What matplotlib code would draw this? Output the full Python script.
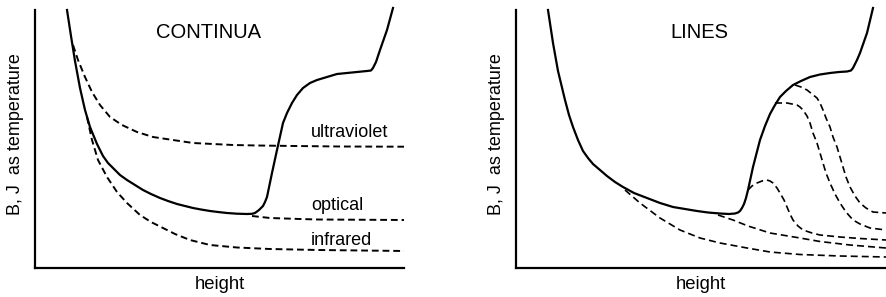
"""
Schematic of source function B and mean intensity J (as temperature) versus height,
for continua (left) and lines (right).
"""

# import the required libraries
import matplotlib
matplotlib.use('Agg')
import matplotlib.pyplot as plt

plt.rcParams['font.family'] = ['Liberation Sans', 'DejaVu Sans']

# ---- data (x: height, y: temperature, arbitrary units) ----
# left panel: CONTINUA
cont_B_x = [32, 36, 40, 45, 50, 55, 62, 68, 73, 78, 85, 92, 100, 108, 116, 125, 133, 142,
            150, 158, 166, 175, 183, 192, 202, 212, 217, 220, 224, 228, 230, 232, 237, 242,
            248, 252, 257, 262, 268, 275, 282, 292, 302, 312, 322, 332, 336, 338, 341, 345,
            352, 358]
cont_B_y = [258, 232, 207, 180, 158, 141, 124, 112, 105, 100, 93, 88, 83, 78, 74, 70, 67, 64,
            62, 60, 58.5, 57, 56, 55, 54.3, 54, 54.2, 55, 58, 62, 66, 71, 95, 118,
            145, 155, 165, 173, 180, 185, 188, 191, 194, 195, 196, 197, 197.5, 200, 206, 218,
            238, 260]

uv_x = [38, 43, 50, 57, 65, 75, 87, 102, 118, 138, 158, 178, 198, 222, 260, 305, 370]
uv_y = [223, 208, 191, 176, 163, 151, 143, 136, 131, 128, 125, 124, 123, 122.5, 122, 121.5,
        121.3]

optical_x = [217, 235, 265, 283, 370]
optical_y = [52, 50, 49, 48.5, 48]

ir_x = [52, 57, 63, 72, 82, 92, 105, 116, 128, 140, 155, 175, 202, 235, 283, 370]
ir_y = [151, 128, 108, 91, 76, 65, 53, 46, 40, 34, 28, 23, 20.5, 19, 18, 17]

cont_names = ['ultraviolet', 'optical', 'infrared']
cont_label_y = [131, 58, 23]

# right panel: LINES
line_B_x = [32, 37, 42, 49, 53, 57, 62, 67, 72, 77, 84, 91, 99, 107, 118, 131, 144, 157,
            169, 181, 192, 204, 213, 219, 222, 224, 226, 228, 230, 232, 237, 244, 249, 254,
            259, 264, 270, 277, 285, 294, 304, 314, 323, 331, 335, 337, 339, 341, 344, 351,
            357]
line_B_y = [258, 225, 197, 168, 153, 141, 128, 117, 110, 104, 98, 92, 86, 81, 75, 70, 65, 61,
            59, 57, 55.5, 54.5, 54, 54.5, 55.5, 57, 60, 64, 70, 78, 101, 128, 142, 154,
            163, 171, 177, 183, 187, 191, 193.5, 195, 196, 196.5, 197.5, 200, 204, 208, 215, 235,
            260]

J1_x = [109, 124, 144, 164, 184, 204, 231, 254, 284, 324, 370]
J1_y = [78, 65, 50, 38, 30, 25, 20, 16, 13.5, 12, 11]

J2_x = [202, 217, 232, 254, 284, 304, 334, 370]
J2_y = [53, 48, 42, 35, 30, 26.5, 23, 20]

J3_x = [232, 236, 241, 246, 251, 254, 257, 261, 264, 268, 271, 274, 277, 282, 287, 296,
        304, 324, 344, 370]
J3_y = [78, 82, 85, 87, 88, 87, 85, 80, 75, 68, 61, 54, 48, 42, 38, 35, 33, 31, 29.5, 28]

J4_x = [259, 265, 271, 276, 281, 284, 287, 291, 294, 297, 301, 304, 307, 310, 314, 319,
        324, 330, 337, 344, 354, 370]
J4_y = [165, 165, 165, 164, 163, 161, 158, 152, 145, 135, 125, 115, 105, 95, 85, 74,
        65, 56, 48, 44, 40, 38]

J5_x = [279, 285, 291, 296, 301, 304, 307, 310, 314, 317, 321, 324, 327, 330, 334, 339,
        344, 350, 357, 370]
J5_y = [183, 181, 178, 174, 170, 165, 158, 150, 141, 131, 121, 111, 101, 91, 81, 72,
        65, 60, 56, 55]

line_J = [(J1_x, J1_y), (J2_x, J2_y), (J3_x, J3_y), (J4_x, J4_y), (J5_x, J5_y)]

FS = 13


def setup_axes(ax, title, title_x, xmax):
    # only left and bottom spines, no ticks
    ax.set_xlim(0, xmax)
    ax.set_ylim(0, 258)
    for side in ['top', 'right']:
        ax.spines[side].set_visible(False)
    for side in ['left', 'bottom']:
        ax.spines[side].set_linewidth(1.6)
    ax.set_xticks([])
    ax.set_yticks([])
    ax.text(title_x, 0.911, title, transform=ax.transAxes, ha='center', va='center',
            fontsize=14.5)
    ax.text(0.5, -0.064, 'height', transform=ax.transAxes, ha='center', va='center',
            fontsize=13.3)
    ax.text(-0.054, 0.521, 'B, J  as temperature', transform=ax.transAxes, rotation=90,
            ha='center', va='center', fontsize=FS)


fig = plt.figure(figsize=(8.86, 2.97), dpi=100)
ax1 = fig.add_axes([35 / 886, 29 / 297, 369 / 886, 258 / 297])
ax2 = fig.add_axes([516 / 886, 29 / 297, 370 / 886, 258 / 297])

# left panel
setup_axes(ax1, 'CONTINUA', 0.469, 369)
ax1.plot(cont_B_x, cont_B_y, color='black', lw=1.6, clip_on=False)
for xs, ys in [(uv_x, uv_y), (optical_x, optical_y), (ir_x, ir_y)]:
    ax1.plot(xs, ys, color='black', lw=1.4, dashes=(3.5, 2.0))
for name, y in zip(cont_names, cont_label_y):
    ax1.text(276, y, name, ha='left', va='baseline', fontsize=FS)

# right panel
setup_axes(ax2, 'LINES', 0.495, 370)
ax2.plot(line_B_x, line_B_y, color='black', lw=1.6, clip_on=False)
for xs, ys in line_J:
    ax2.plot(xs, ys, color='black', lw=1.2, dashes=(4.2, 2.4))

fig.savefig('out.png', dpi=100)
